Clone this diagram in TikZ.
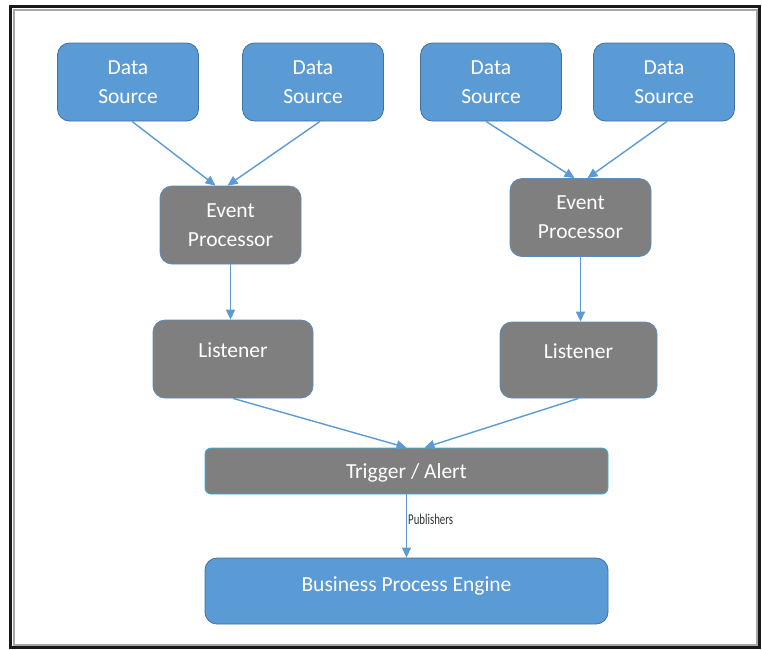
\documentclass[tikz,border=0pt]{standalone}
\usepackage{fontspec}
\setmainfont{Carlito}
\newfontfamily\pubfont[FakeStretch=0.72]{Carlito}
\usepackage{xcolor}
\usepackage{tikz}
\usetikzlibrary{arrows.meta,positioning,calc}
\definecolor{srcblue}{RGB}{91,155,213}
\definecolor{srcedge}{RGB}{65,113,156}
\definecolor{procgray}{RGB}{127,127,127}
\definecolor{procedge}{RGB}{90,140,190}
\definecolor{trigedge}{RGB}{40,180,235}
\definecolor{pubgray}{RGB}{50,50,50}
\tikzstyle{source} = [rectangle, rounded corners=12pt, fill=srcblue, draw=srcedge, line width=0.8pt, text=white, align=center, font=\fontsize{21.5}{29}\selectfont, minimum width=141pt, minimum height=78pt, inner sep=0pt]
\tikzstyle{proc} = [source, fill=procgray, draw=procedge]
\tikzstyle{flow} = [-{Triangle[length=10pt,width=9pt]}, line width=1.4pt, draw=srcblue]

\begin{document}
\begin{tikzpicture}[x=1pt, y=-1pt]

% Frame
\useasboundingbox (0,0) rectangle (762,649);
\fill[white] (0,0) rectangle (762,649);
\draw[line width=2pt, black!35] (13.5,9.5) rectangle (756.5,645);
\draw[line width=3pt, black!90] (10.5,6) rectangle (759.5,647.5);

% Data sources
\node[source] (ds1) at (128,82) {Data\\Source};
\node[source] (ds2) at (313,82) {Data\\Source};
\node[source] (ds3) at (491,82) {Data\\Source};
\node[source] (ds4) at (664,82) {Data\\Source};

% Event processors
\node[proc] (ep1) at (230.5,225) {Event\\Processor};
\node[proc] (ep2) at (580.5,217.5) {Event\\Processor};

% Listeners
\node[proc, minimum width=160pt, text height=15pt, text depth=19pt] (l1) at (233,359) {Listener};
\node[proc, minimum width=157pt, minimum height=76pt, text height=15pt, text depth=19pt] (l2) at (578.5,360) {Listener};

% Trigger and engine
\node[proc, draw=trigedge, rounded corners=6pt, minimum width=403pt, minimum height=46pt, text height=19pt, text depth=5pt] (trig) at (406.5,471) {Trigger / Alert};
\node[source, minimum width=403pt, minimum height=66pt, text height=15pt, text depth=15pt] (bpe) at (406.5,591) {Business Process Engine};

% Arrows
\draw[flow] ([xshift=4pt]ds1.south) -- ([xshift=-15pt]ep1.north);
\draw[flow] ([xshift=7pt]ds2.south) -- ([xshift=-3pt]ep1.north);
\draw[flow] ([xshift=-5pt]ds3.south) -- ([xshift=-6pt]ep2.north);
\draw[flow] ([xshift=3pt]ds4.south) -- ([xshift=7pt]ep2.north);
\draw[flow] (ep1.south) -- (ep1.south |- l1.north);
\draw[flow] (ep2.south) -- (ep2.south |- l2.north);
\draw[flow] (l1.south) -- (trig.north);
\draw[flow] (l2.south) -- ([xshift=18pt]trig.north);
\draw[flow] (trig.south) -- node[pos=0.39, anchor=west, inner sep=1pt, text=pubgray, font=\pubfont\fontsize{15}{15}\selectfont] (pub) {Publishers} (trig.south |- bpe.north);

\end{tikzpicture}
\end{document}
